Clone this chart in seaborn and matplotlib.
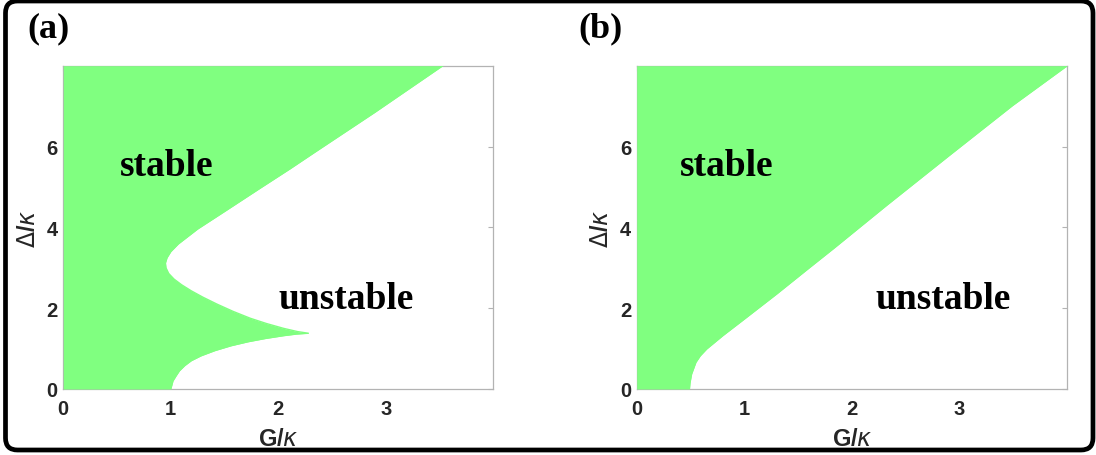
import matplotlib
matplotlib.use("Agg")
import matplotlib.pyplot as plt
from matplotlib.patches import FancyBboxPatch
from matplotlib.transforms import IdentityTransform
import pandas as pd
import seaborn as sns

# Stability boundary, panel (a): detuning Delta/kappa and the critical G/kappa
delta_a = [0.00, 0.10, 0.20, 0.33, 0.45, 0.58, 0.70, 0.82, 0.95, 1.07, 1.17,
           1.25, 1.32, 1.36, 1.38, 1.42, 1.50, 1.62, 1.75, 1.92, 2.10, 2.27,
           2.43, 2.58, 2.72, 2.86, 3.00, 3.12, 3.25, 3.40, 3.59, 3.96, 4.41,
           4.95, 5.45, 5.86, 6.85, 8.00]
g_a = [1.00, 1.01, 1.02, 1.05, 1.08, 1.13, 1.19, 1.28, 1.41, 1.56, 1.72,
       1.88, 2.05, 2.17, 2.28, 2.18, 2.05, 1.89, 1.74, 1.58, 1.43, 1.30,
       1.19, 1.10, 1.03, 0.98, 0.955, 0.95, 0.965, 1.00, 1.07, 1.25, 1.51,
       1.82, 2.11, 2.34, 2.90, 3.53]

# Stability boundary, panel (b)
delta_b = [0.00, 0.15, 0.37, 0.66, 0.82, 0.99, 1.32, 1.73, 2.35, 2.97, 3.50,
           4.54, 5.77, 7.01, 8.00]
g_b = [0.49, 0.495, 0.51, 0.55, 0.59, 0.65, 0.80, 1.00, 1.30, 1.59, 1.84,
       2.32, 2.90, 3.49, 4.00]

panel_tags = ["(a)", "(b)"]
x_ticks = [0, 1, 2, 3]
y_ticks = [0, 2, 4, 6]
region_names = ["stable", "unstable"]
# label anchors (G, Delta) for each panel
stable_pos = [(0.53, 5.3), (0.40, 5.3)]
unstable_pos = [(2.00, 2.0), (2.22, 2.0)]

GREEN = "#80ff80"
TXT = "#262626"

sns.set_theme(style="white")
plt.rcParams["font.family"] = ["Liberation Sans", "DejaVu Sans"]
plt.rcParams["mathtext.fontset"] = "dejavusans"

fig = plt.figure(figsize=(10.96, 4.56), dpi=100)
fig.patch.set_facecolor("white")

W, H = 1096.0, 456.0
ax_boxes = [(63.3 / W, 1 - 390 / H, 430 / W, 323.3 / H),
            (636.7 / W, 1 - 390 / H, 430.5 / W, 323.3 / H)]
tag_x = [27 / W, 578 / W]

curves = [pd.DataFrame({"delta": delta_a, "G": g_a}),
          pd.DataFrame({"delta": delta_b, "G": g_b})]

for i, (box, df) in enumerate(zip(ax_boxes, curves)):
    ax = fig.add_axes(box)
    ax.set_facecolor("white")
    ax.fill_betweenx(df["delta"], 0, df["G"], color=GREEN, lw=0, zorder=1)
    sns.lineplot(data=df, x="G", y="delta", sort=False, estimator=None,
                 ax=ax, color=GREEN, lw=1.0, zorder=1.1)
    ax.set_xlim(0, 4)
    ax.set_ylim(0, 8)
    ax.set_xticks(x_ticks)
    ax.set_yticks(y_ticks)
    ax.set_axisbelow(True)
    for sp in ax.spines.values():
        sp.set_visible(True)
        sp.set_color("#b3b3b3")
        sp.set_linewidth(0.9)
        sp.set_zorder(0.5)
    ax.tick_params(axis="both", direction="in", length=3.5, width=0.8,
                   color="#b3b3b3", top=True, right=True,
                   labelsize=14.5, labelcolor=TXT)
    ax.tick_params(axis="x", pad=7)
    ax.tick_params(axis="y", pad=4)
    for lab in ax.get_xticklabels() + ax.get_yticklabels():
        lab.set_fontweight("bold")
    ax.set_xlabel(r"G/$\kappa$", fontsize=17, fontweight="bold",
                  color=TXT, labelpad=7)
    ax.set_ylabel(r"$\Delta$/$\kappa$", fontsize=17, fontweight="bold",
                  color=TXT, labelpad=5)

    sx, sy = stable_pos[i]
    ux, uy = unstable_pos[i]
    ax.text(sx, sy, region_names[0], fontsize=27, fontweight="bold",
            family="Liberation Serif", color="black", ha="left",
            va="baseline", zorder=5)
    ax.text(ux, uy, region_names[1], fontsize=27, fontweight="bold",
            family="Liberation Serif", color="black", ha="left",
            va="baseline", zorder=5)

    fig.text(tag_x[i], 1 - 37 / H, panel_tags[i], fontsize=26,
             fontweight="bold", family="Liberation Serif", color="black",
             ha="left", va="baseline")

# rounded black frame round the whole figure
frame = FancyBboxPatch((5.5, 5.0), 1087.5, 449.0,
                       boxstyle="round,pad=0,rounding_size=12",
                       transform=IdentityTransform(), fill=False,
                       ec="black", lw=3.4, zorder=10)
fig.patches.append(frame)

fig.savefig("out.png", dpi=100, facecolor="white")
